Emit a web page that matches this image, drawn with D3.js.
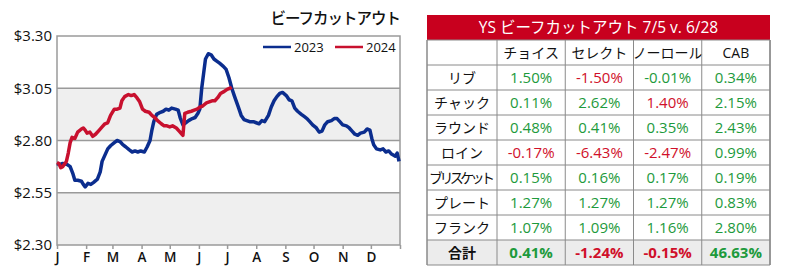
<!DOCTYPE html>
<html>
<head>
<meta charset="utf-8">
<script src="https://cdn.jsdelivr.net/npm/d3@7"></script>
<style>
  body { margin: 0; background: #fff; }
  svg text { font-family: "Open Sans", "Noto Sans CJK JP", sans-serif; }
</style>
</head>
<body>
<div id="chart"></div>
<script>
// day-of-year and price ($/lb)
const days2023 = [0,3,6,11,14,17,19,22,26,28,30,33,36,39,43,46,48,51,54,57,61,64,67,70,73,77,80,83,86,89,93,96,99,101,103,106,110,113,116,119,122,126,129,131,134,137,140,144,147,150,152,154,156,158,161,164,167,170,173,177,180,183,186,189,193,196,199,202,205,209,212,215,218,221,225,228,231,234,237,240,244,247,250,253,256,260,263,266,269,272,276,279,282,285,288,292,295,298,301,304,308,311,314,317,320,323,327,330,333,335,337,340,344,347,350,353,356,360,362,364];
const vals2023 = [2.69,2.685,2.69,2.685,2.675,2.64,2.61,2.61,2.605,2.59,2.578,2.595,2.59,2.60,2.615,2.65,2.70,2.73,2.76,2.775,2.79,2.80,2.795,2.78,2.77,2.755,2.745,2.75,2.745,2.75,2.745,2.77,2.80,2.85,2.89,2.925,2.935,2.94,2.95,2.945,2.955,2.95,2.945,2.91,2.875,2.885,2.895,2.905,2.91,2.93,2.95,3.05,3.12,3.19,3.215,3.21,3.19,3.18,3.17,3.155,3.14,3.10,3.05,3.01,2.96,2.92,2.90,2.895,2.89,2.89,2.885,2.88,2.895,2.89,2.92,2.96,2.99,3.01,3.025,3.03,3.015,2.995,2.99,2.955,2.94,2.925,2.915,2.905,2.89,2.875,2.86,2.84,2.845,2.875,2.89,2.895,2.905,2.905,2.89,2.875,2.87,2.86,2.845,2.83,2.825,2.835,2.84,2.855,2.85,2.81,2.78,2.76,2.755,2.76,2.745,2.75,2.735,2.725,2.74,2.70];

const days2024 = [0,2,4,6,10,12,14,16,19,22,26,28,30,32,35,38,41,45,48,51,54,57,61,64,67,69,72,76,79,82,85,88,91,94,98,101,104,107,111,114,117,120,123,127,130,133,134,136,139,143,146,149,152,155,159,162,165,168,171,174,178,181,184,186];
const vals2024 = [2.695,2.69,2.67,2.675,2.70,2.74,2.79,2.815,2.81,2.84,2.855,2.86,2.85,2.835,2.84,2.82,2.83,2.85,2.865,2.88,2.885,2.92,2.95,2.95,2.955,2.99,3.01,3.02,3.015,3.02,3.005,2.985,2.95,2.94,2.935,2.92,2.91,2.895,2.88,2.87,2.87,2.865,2.87,2.86,2.845,2.83,2.825,2.93,2.935,2.94,2.945,2.95,2.96,2.965,2.98,2.985,2.99,2.99,3.005,3.025,3.035,3.045,3.05,3.055];

const monthStarts = [0,31,59,90,120,151,181,212,243,273,304,334];
const monthLabels = ["J","F","M","A","M","J","J","A","S","O","N","D"];
const yTicks = [2.30, 2.55, 2.80, 3.05, 3.30];

// table
const tableTitle = "YS ビーフカットアウト 7/5 v. 6/28";
const grades = ["チョイス", "セレクト", "ノーロール", "CAB"];
const cuts = ["リブ", "チャック", "ラウンド", "ロイン", "ブリスケット", "プレート", "フランク", "合計"];
const changes = [
  ["1.50%", "-1.50%", "-0.01%", "0.34%"],
  ["0.11%", "2.62%", "1.40%", "2.15%"],
  ["0.48%", "0.41%", "0.35%", "2.43%"],
  ["-0.17%", "-6.43%", "-2.47%", "0.99%"],
  ["0.15%", "0.16%", "0.17%", "0.19%"],
  ["1.27%", "1.27%", "1.27%", "0.83%"],
  ["1.07%", "1.09%", "1.16%", "2.80%"],
  ["0.41%", "-1.24%", "-0.15%", "46.63%"]
];
// 1 = shown in red in the source
const redFlags = [
  [0,1,0,0],
  [0,0,1,0],
  [0,0,0,0],
  [1,1,1,0],
  [0,0,0,0],
  [0,0,0,0],
  [0,0,0,0],
  [0,1,1,0]
];

const blue = "#0b2d8e", red = "#c8102e";
const svg = d3.select("#chart").append("svg")
  .attr("width", 789).attr("height", 272);

// ---- line chart ----
const m = { left: 57, top: 36, right: 400, bottom: 245 };
const x = d3.scaleLinear().domain([0, 365]).range([m.left, m.right]);
const y = d3.scaleLinear().domain([2.30, 3.30]).range([m.bottom, m.top]);

const plot = svg.append("g");
// alternating bands
for (let i = 0; i < yTicks.length - 1; i++) {
  plot.append("rect")
    .attr("x", m.left).attr("width", m.right - m.left)
    .attr("y", y(yTicks[i + 1])).attr("height", y(yTicks[i]) - y(yTicks[i + 1]))
    .attr("fill", i % 2 === 0 ? "#efefef" : "#fff");
}
plot.selectAll("line.grid").data(yTicks.slice(1, -1)).enter().append("line")
  .attr("x1", m.left).attr("x2", m.right)
  .attr("y1", d => y(d)).attr("y2", d => y(d))
  .attr("stroke", "#9a9a9a").attr("stroke-width", 1.5);
plot.append("rect")
  .attr("x", m.left).attr("y", m.top)
  .attr("width", m.right - m.left).attr("height", m.bottom - m.top)
  .attr("fill", "none").attr("stroke", "#9a9a9a").attr("stroke-width", 1.5);

const yAxis = svg.append("g").attr("transform", "translate(" + m.left + ",0)")
  .call(d3.axisLeft(y).tickValues(yTicks).tickSize(0).tickPadding(5)
    .tickFormat(d => "$" + d.toFixed(2)));
yAxis.select(".domain").remove();
yAxis.selectAll("text").attr("font-size", 15).attr("fill", "#111").attr("font-weight", 500);

const xAxis = svg.append("g").attr("transform", "translate(0," + m.bottom + ")")
  .call(d3.axisBottom(x).tickValues(monthStarts.concat([365])).tickSize(4).tickPadding(3)
    .tickFormat((d, i) => monthLabels[i] || ""));
xAxis.select(".domain").remove();
xAxis.selectAll("line").attr("stroke", "#9a9a9a").attr("stroke-width", 1.5);
xAxis.selectAll("text").attr("font-size", 13.5).attr("fill", "#111").attr("font-weight", 600);

const line = d3.line().x(d => x(d[0])).y(d => y(d[1]));
svg.append("path").datum(d3.zip(days2023, vals2023))
  .attr("d", line).attr("fill", "none").attr("stroke", blue)
  .attr("stroke-width", 3.5).attr("stroke-linejoin", "round");
svg.append("path").datum(d3.zip(days2024, vals2024))
  .attr("d", line).attr("fill", "none").attr("stroke", red)
  .attr("stroke-width", 3.5).attr("stroke-linejoin", "round");

svg.append("text").attr("x", m.right).attr("y", 24).attr("text-anchor", "end")
  .attr("font-size", 15.5).attr("font-weight", 500).attr("fill", "#111")
  .attr("letter-spacing", -1)
  .text("ビーフカットアウト");

// legend
const legend = svg.append("g").attr("transform", "translate(263,47)");
[["2023", blue, 0], ["2024", red, 72]].forEach(l => {
  legend.append("line").attr("x1", l[2]).attr("x2", l[2] + 28)
    .attr("stroke", l[1]).attr("stroke-width", 2.5);
  legend.append("text").attr("x", l[2] + 31).attr("y", 5)
    .attr("font-size", 13).attr("font-weight", 500).attr("fill", "#111").text(l[0]);
});

// ---- table ----
const t = { left: 427, top: 15, rowH: 25, firstW: 70, colW: 68.25 };
const tbl = svg.append("g");
const tw = t.firstW + t.colW * grades.length;
const colX = i => t.left + t.firstW + t.colW * i;

tbl.append("rect").attr("x", t.left).attr("y", t.top).attr("width", tw).attr("height", t.rowH)
  .attr("fill", "#c8001e");
tbl.append("text").attr("x", t.left + tw / 2).attr("y", t.top + 18).attr("text-anchor", "middle")
  .attr("font-size", 15.5).attr("fill", "#fff").text(tableTitle);

// total row background
tbl.append("rect").attr("x", t.left).attr("y", t.top + t.rowH * 9)
  .attr("width", tw).attr("height", t.rowH).attr("fill", "#ececec");

tbl.selectAll("text.grade").data(grades).enter().append("text")
  .attr("x", (d, i) => colX(i) + t.colW / 2).attr("y", t.top + t.rowH + 18)
  .attr("text-anchor", "middle").attr("font-size", 14).attr("fill", "#111").text(d => d);

tbl.selectAll("text.cut").data(cuts).enter().append("text")
  .attr("x", t.left + t.firstW / 2).attr("y", (d, i) => t.top + t.rowH * (i + 2) + 18)
  .attr("text-anchor", "middle").attr("font-size", 14).attr("fill", "#111")
  .attr("font-weight", (d, i) => i === cuts.length - 1 ? 700 : 400)
  .attr("textLength", d => d.length > 5 ? 66 : null)
  .text(d => d);

changes.forEach((row, r) => {
  tbl.selectAll(null).data(row).enter().append("text")
    .attr("x", (d, i) => colX(i) + t.colW / 2)
    .attr("y", t.top + t.rowH * (r + 2) + 18)
    .attr("text-anchor", "middle").attr("font-size", 15)
    .attr("font-weight", r === changes.length - 1 ? 700 : 400)
    .attr("fill", (d, i) => redFlags[r][i] ? "#d0102a" : "#1d9a3c")
    .text(d => d);
});

// grid lines
const gridC = "#8a8a8a";
for (let r = 1; r <= 10; r++) {
  tbl.append("line").attr("x1", t.left).attr("x2", t.left + tw)
    .attr("y1", t.top + t.rowH * r).attr("y2", t.top + t.rowH * r)
    .attr("stroke", gridC).attr("stroke-width", 1);
}
for (let c = 0; c <= grades.length; c++) {
  tbl.append("line").attr("x1", colX(c)).attr("x2", colX(c))
    .attr("y1", t.top + t.rowH).attr("y2", t.top + t.rowH * 10)
    .attr("stroke", gridC).attr("stroke-width", 1);
}
tbl.append("line").attr("x1", t.left).attr("x2", t.left)
  .attr("y1", t.top + t.rowH).attr("y2", t.top + t.rowH * 10)
  .attr("stroke", gridC).attr("stroke-width", 1.5);
tbl.append("line").attr("x1", t.left + tw).attr("x2", t.left + tw)
  .attr("y1", t.top + t.rowH).attr("y2", t.top + t.rowH * 10)
  .attr("stroke", gridC).attr("stroke-width", 1.5);
</script>
</body>
</html>
